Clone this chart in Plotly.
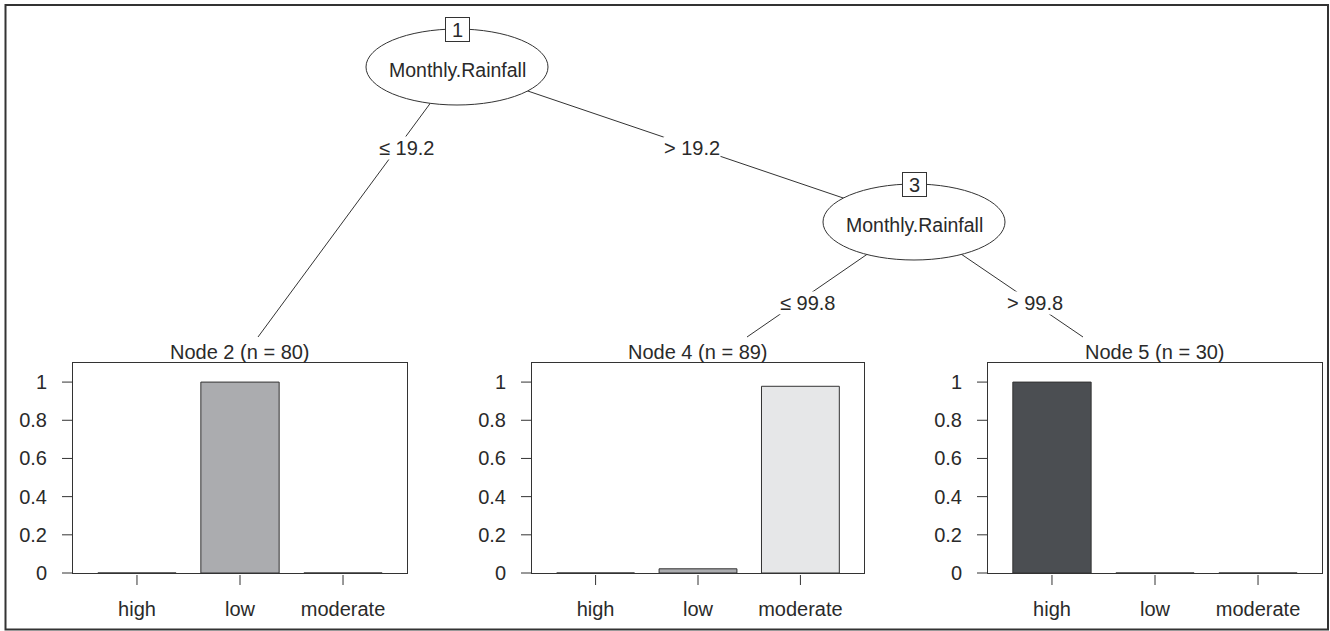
import plotly.graph_objects as go

# ---- tree content -------------------------------------------------------
classes = ["high", "low", "moderate"]
class_colors = ["#4b4e52", "#abacaf", "#e6e7e8"]

terminal_ids = [2, 4, 5]
terminal_n = [80, 89, 30]
terminal_props = [
    [0.0, 1.0, 0.0],
    [0.0, 0.022, 0.978],
    [1.0, 0.0, 0.0],
]

inner_ids = [1, 3]
inner_vars = ["Monthly.Rainfall", "Monthly.Rainfall"]

edges = [(1, 2), (1, 3), (3, 4), (3, 5)]
edge_labels = ["≤ 19.2", "> 19.2", "≤ 99.8", "> 99.8"]

y_ticks = [0, 0.2, 0.4, 0.6, 0.8, 1]
y_ticktext = ["0", "0.2", "0.4", "0.6", "0.8", "1"]

# ---- layout geometry (pixels of a 1330 x 631 page) -----------------------
W, H = 1330, 631
inner_pos = {1: (457, 67), 3: (914, 222)}
ell_a, ell_b = 91, 38
panel_x = [(73, 407), (532, 864), (988, 1322)]
panel_top, panel_bottom = 363, 573
x_range = [-0.621, 2.621]
y_range = [0, 1.1]
edge_targets = {2: (258, 337), 4: (747, 337), 5: (1083, 337)}
edge_label_pos = [(406, 148), (692, 148), (807, 303), (1035, 303)]
title_y = 352

FONT = "Liberation Sans, Arial, sans-serif"
INK = "#333333"
TXT = "#2a2a2a"
CLEAR = "rgba(0,0,0,0)"

fig = go.Figure()
shapes = []
annotations = []

# ---- terminal bar panels -------------------------------------------------
# the transparent axis ticks only set the label distance from the axis;
# the visible tick marks are drawn on the page overlay further below
for k, (nid, props) in enumerate(zip(terminal_ids, terminal_props)):
    sfx = "" if k == 0 else str(k + 1)
    xa, ya = "x" + sfx, "y" + sfx
    fig.add_trace(go.Bar(
        x=list(range(len(classes))), y=props, width=0.76,
        marker=dict(color=class_colors, line=dict(color=INK, width=1)),
        xaxis=xa, yaxis=ya, showlegend=False, hoverinfo="skip",
    ))
    x0, x1 = panel_x[k]
    fig.layout["xaxis" + sfx] = dict(
        domain=[x0 / W, x1 / W], anchor=ya, range=x_range,
        tickmode="array", tickvals=list(range(len(classes))), ticktext=classes,
        ticks="outside", ticklen=18, tickcolor=CLEAR,
        showline=True, mirror=True, linecolor=INK, linewidth=1,
        showgrid=False, zeroline=False, fixedrange=True, automargin=False,
        tickfont=dict(family=FONT, size=20, color=TXT),
    )
    fig.layout["yaxis" + sfx] = dict(
        domain=[(H - panel_bottom) / H, (H - panel_top) / H], anchor=xa,
        range=y_range, tickmode="array", tickvals=y_ticks, ticktext=y_ticktext,
        ticks="outside", ticklen=21, tickcolor=CLEAR,
        showline=True, mirror=True, linecolor=INK, linewidth=1,
        showgrid=False, zeroline=False, fixedrange=True, automargin=False,
        tickfont=dict(family=FONT, size=20, color=TXT),
    )

# ---- overlay axes in pixel units for the tree drawing --------------------
fig.layout["xaxis4"] = dict(domain=[0, 1], anchor="y4", range=[0, W], visible=False,
                            fixedrange=True, automargin=False)
fig.layout["yaxis4"] = dict(domain=[0, 1], anchor="x4", range=[H, 0], visible=False,
                            fixedrange=True, automargin=False)
fig.add_trace(go.Scatter(x=[0], y=[0], xaxis="x4", yaxis="y4", mode="markers",
                         marker=dict(opacity=0), showlegend=False, hoverinfo="skip"))

# tick marks of the bar panels (panel value -> page pixel)
for k in range(len(terminal_ids)):
    x0, x1 = panel_x[k]
    for i in range(len(classes)):
        px = x0 + (i - x_range[0]) / (x_range[1] - x_range[0]) * (x1 - x0)
        shapes.append(dict(type="line", xref="x4", yref="y4", x0=px, x1=px,
                           y0=panel_bottom + 2, y1=panel_bottom + 12,
                           line=dict(color=INK, width=1)))
    for v in y_ticks:
        py = panel_bottom - (v - y_range[0]) / (y_range[1] - y_range[0]) * (panel_bottom - panel_top)
        shapes.append(dict(type="line", xref="x4", yref="y4", x0=x0 - 11, x1=x0,
                           y0=py, y1=py, line=dict(color=INK, width=1)))

# edges (drawn from node centre, ellipses cover the inner part)
for (p, c) in edges:
    px, py = inner_pos[p]
    cx, cy = inner_pos[c] if c in inner_pos else edge_targets[c]
    shapes.append(dict(type="line", xref="x4", yref="y4", x0=px, y0=py, x1=cx, y1=cy,
                       line=dict(color=INK, width=1)))

# inner node ellipses
for nid, var in zip(inner_ids, inner_vars):
    cx, cy = inner_pos[nid]
    shapes.append(dict(type="circle", xref="x4", yref="y4",
                       x0=cx - ell_a, x1=cx + ell_a, y0=cy - ell_b, y1=cy + ell_b,
                       line=dict(color=INK, width=1), fillcolor="white"))
    annotations.append(dict(xref="x4", yref="y4", x=cx, y=cy + 3, text=var, showarrow=False,
                            font=dict(family=FONT, size=19.5, color=TXT)))
    annotations.append(dict(xref="x4", yref="y4", x=cx, y=cy - ell_b, text=str(nid), showarrow=False,
                            font=dict(family=FONT, size=20, color=TXT), bgcolor="white",
                            bordercolor=INK, borderwidth=1, borderpad=0, width=23, height=23))

# split labels on the edges
for lab, (lx, ly) in zip(edge_labels, edge_label_pos):
    annotations.append(dict(xref="x4", yref="y4", x=lx, y=ly, text=lab, showarrow=False,
                            bgcolor="white", borderpad=0,
                            font=dict(family=FONT, size=20, color=TXT)))

# terminal node titles
for k, (nid, n) in enumerate(zip(terminal_ids, terminal_n)):
    x0, x1 = panel_x[k]
    annotations.append(dict(xref="x4", yref="y4", x=(x0 + x1) / 2, y=title_y,
                            text=f"Node {nid} (n = {n})", showarrow=False,
                            font=dict(family=FONT, size=20, color=TXT)))

# outer frame
shapes.append(dict(type="rect", xref="x4", yref="y4", x0=5.5, x1=1328, y0=5, y1=629.5,
                   line=dict(color=INK, width=2), fillcolor=CLEAR))

fig.update_layout(
    width=W, height=H, margin=dict(l=0, r=0, t=0, b=0, pad=0, autoexpand=False),
    paper_bgcolor="white", plot_bgcolor=CLEAR,
    shapes=shapes, annotations=annotations, showlegend=False,
    font=dict(family=FONT, color=TXT),
)

fig.write_html("out.html")
